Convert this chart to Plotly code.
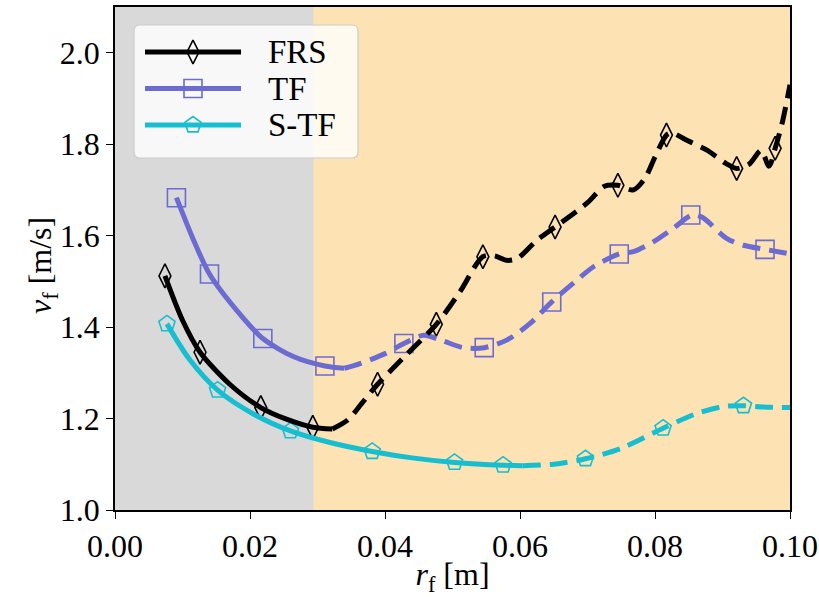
import plotly.graph_objects as go

# ---------------- data ----------------
# marker samples (r_f [m], v_f [m/s])
frs_mx = [0.0074, 0.0126, 0.0216, 0.0293, 0.0389, 0.0476, 0.0545, 0.0652, 0.0745, 0.0817, 0.0921, 0.0978]
frs_my = [1.512, 1.345, 1.224, 1.181, 1.275, 1.406, 1.554, 1.619, 1.710, 1.820, 1.747, 1.791]

tf_mx = [0.0091, 0.0140, 0.0219, 0.0311, 0.0428, 0.0547, 0.0647, 0.0747, 0.0853, 0.0963]
tf_my = [1.683, 1.516, 1.375, 1.315, 1.364, 1.355, 1.455, 1.560, 1.645, 1.570]

stf_mx = [0.0077, 0.0152, 0.0260, 0.0381, 0.0503, 0.0575, 0.0697, 0.0812, 0.0931]
stf_my = [1.407, 1.262, 1.173, 1.128, 1.104, 1.098, 1.112, 1.179, 1.228]

# curve knots: solid (inside the grey zone) and dashed parts
frs_solid_x = [0.0074, 0.0100, 0.0126, 0.0170, 0.0216, 0.0255, 0.0293, 0.0322]
frs_solid_y = [1.512, 1.415, 1.345, 1.275, 1.224, 1.198, 1.181, 1.177]
frs_dash_x = [0.0322, 0.0345, 0.0365, 0.0389, 0.0432, 0.0476, 0.0510, 0.0545, 0.0562, 0.0580,
              0.0596, 0.0625, 0.0652, 0.0700, 0.0725, 0.0745, 0.0768, 0.0785, 0.0800, 0.0817,
              0.0825, 0.0845, 0.0877, 0.0905, 0.0921, 0.0940, 0.0957, 0.0969, 0.0978, 0.0989, 0.1000]
frs_dash_y = [1.177, 1.197, 1.232, 1.275, 1.340, 1.406, 1.475, 1.554, 1.556, 1.546,
              1.550, 1.590, 1.619, 1.672, 1.708, 1.710, 1.700, 1.725, 1.772, 1.820,
              1.825, 1.810, 1.787, 1.758, 1.747, 1.757, 1.786, 1.752, 1.791, 1.850, 1.930]

tf_solid_x = [0.0091, 0.0115, 0.0140, 0.0180, 0.0219, 0.0265, 0.0311, 0.0340]
tf_solid_y = [1.683, 1.595, 1.516, 1.437, 1.375, 1.335, 1.315, 1.310]
tf_dash_x = [0.0340, 0.0363, 0.0400, 0.0428, 0.0457, 0.0482, 0.0516, 0.0547, 0.0581, 0.0615,
             0.0647, 0.0679, 0.0709, 0.0747, 0.0768, 0.0798, 0.0827, 0.0855, 0.0870, 0.0906,
             0.0931, 0.0963, 0.1000]
tf_dash_y = [1.310, 1.320, 1.342, 1.364, 1.382, 1.372, 1.355, 1.355, 1.372, 1.408,
             1.455, 1.496, 1.532, 1.560, 1.565, 1.587, 1.616, 1.645, 1.640, 1.594,
             1.579, 1.570, 1.560]

stf_solid_x = [0.0077, 0.0110, 0.0152, 0.0205, 0.0260, 0.0320, 0.0381, 0.0440, 0.0503, 0.0575, 0.0604]
stf_solid_y = [1.407, 1.330, 1.262, 1.210, 1.173, 1.147, 1.128, 1.114, 1.104, 1.098, 1.097]
stf_dash_x = [0.0604, 0.0650, 0.0697, 0.0750, 0.0812, 0.0860, 0.0900, 0.0931, 0.0960, 0.1000]
stf_dash_y = [1.097, 1.100, 1.112, 1.135, 1.179, 1.210, 1.226, 1.228, 1.225, 1.224]

grey_zone_end = 0.0294
series_names = ["FRS", "TF", "S-TF"]
x_title = "<i>r</i><sub>f</sub> [m]"
y_title = "<i>v</i><sub>f</sub> [m/s]"

# ---------------- styles ----------------
BLACK = "#000000"
PURPLE = "#6B6BD2"
CYAN = "#17BECF"
GREY_BG = "#D9D9D9"
ORANGE_BG = "#FDE3B3"
FONT = "Liberation Serif, Times New Roman, serif"
LW = 5
DASH = "18px,9px"

W, H = 819, 597
ML, MR, MT, MB = 115, 29, 7, 87

series = [
    dict(name=series_names[0], color=BLACK, symbol="diamond-tall-open", size=17,
         mx=frs_mx, my=frs_my, sx=frs_solid_x, sy=frs_solid_y, dx=frs_dash_x, dy=frs_dash_y),
    dict(name=series_names[1], color=PURPLE, symbol="square-open", size=18,
         mx=tf_mx, my=tf_my, sx=tf_solid_x, sy=tf_solid_y, dx=tf_dash_x, dy=tf_dash_y),
    dict(name=series_names[2], color=CYAN, symbol="pentagon-open", size=17,
         mx=stf_mx, my=stf_my, sx=stf_solid_x, sy=stf_solid_y, dx=stf_dash_x, dy=stf_dash_y),
]

fig = go.Figure()

# markers first so the curves run over them
for s in series:
    fig.add_trace(go.Scatter(
        x=s["mx"], y=s["my"], mode="markers", showlegend=False,
        marker=dict(symbol=s["symbol"], size=s["size"], color=s["color"],
                    line=dict(width=1.6, color=s["color"]))))

for s in reversed(series):
    fig.add_trace(go.Scatter(
        x=s["sx"], y=s["sy"], mode="lines", showlegend=False,
        line=dict(color=s["color"], width=LW, shape="spline", smoothing=0.8)))
    fig.add_trace(go.Scatter(
        x=s["dx"], y=s["dy"], mode="lines", showlegend=False,
        line=dict(color=s["color"], width=LW, dash=DASH, shape="spline", smoothing=0.8)))

# ---------------- legend drawn on a pixel-space overlay axis ----------------
px_left, px_right = ML, W - MR
px_top, px_bottom = MT, H - MB
box_x0, box_x1, box_y0, box_y1 = 134, 358, 25, 158
line_x0, line_x1 = 145, 241
text_x = 266
row_y0, row_dy = 52, 36.5

for i, s in enumerate(series):
    ry = row_y0 + i * row_dy
    fig.add_trace(go.Scatter(
        x=[line_x0, line_x1], y=[ry, ry], xaxis="x2", yaxis="y2", mode="lines",
        showlegend=False, hoverinfo="skip",
        line=dict(color=s["color"], width=LW)))
    fig.add_trace(go.Scatter(
        x=[(line_x0 + line_x1) / 2], y=[ry], xaxis="x2", yaxis="y2", mode="markers",
        showlegend=False, hoverinfo="skip",
        marker=dict(symbol=s["symbol"], size=s["size"], color=s["color"],
                    line=dict(width=1.6, color=s["color"]))))
    fig.add_annotation(x=text_x, y=ry, xref="x2", yref="y2", text=s["name"],
                       showarrow=False, xanchor="left", yanchor="middle",
                       font=dict(family=FONT, size=33, color="black"))

r = 6
box_path = (f"M{box_x0 + r},{box_y0} L{box_x1 - r},{box_y0} Q{box_x1},{box_y0} {box_x1},{box_y0 + r} "
            f"L{box_x1},{box_y1 - r} Q{box_x1},{box_y1} {box_x1 - r},{box_y1} "
            f"L{box_x0 + r},{box_y1} Q{box_x0},{box_y1} {box_x0},{box_y1 - r} "
            f"L{box_x0},{box_y0 + r} Q{box_x0},{box_y0} {box_x0 + r},{box_y0} Z")

# y-axis title placed as a rotated annotation, a little closer to the tick labels
plot_w = W - ML - MR
fig.add_annotation(x=(42 - ML) / plot_w, y=0.485, xref="paper", yref="paper",
                   text=y_title, textangle=-90, showarrow=False,
                   xanchor="center", yanchor="middle", font=dict(family=FONT, size=32))

fig.update_layout(
    width=W, height=H,
    margin=dict(l=ML, r=MR, t=MT, b=MB, pad=0, autoexpand=False),
    paper_bgcolor="white",
    plot_bgcolor=ORANGE_BG,
    font=dict(family=FONT, size=32, color="black"),
    showlegend=False,
    shapes=[
        dict(type="rect", xref="x", yref="paper", x0=0, x1=grey_zone_end, y0=0, y1=1,
             fillcolor=GREY_BG, line=dict(width=0), layer="below"),
        dict(type="path", xref="x2", yref="y2", path=box_path,
             fillcolor="rgba(255,255,255,0.8)", line=dict(color="#CCCCCC", width=1.2),
             layer="below"),
    ],
    xaxis=dict(range=[0, 0.10], dtick=0.02, tickformat=".2f", showgrid=False, zeroline=False,
               showline=True, linecolor="black", linewidth=1.5, mirror=True, automargin=False,
               ticks="outside", ticklen=7, tickwidth=1.3, tickcolor="black",
               tickfont=dict(size=32),
               title=dict(text=x_title, font=dict(size=32), standoff=8)),
    yaxis=dict(range=[1.0, 2.1], tick0=1.0, dtick=0.2, tickformat=".1f", showgrid=False,
               zeroline=False, showline=True, linecolor="black", linewidth=1.5, mirror=True,
               automargin=False,
               ticks="outside", ticklen=7, tickwidth=1.3, tickcolor="black",
               tickfont=dict(size=32)),
    xaxis2=dict(overlaying="x", range=[px_left, px_right], visible=False, fixedrange=True),
    yaxis2=dict(overlaying="y", range=[px_bottom, px_top], visible=False, fixedrange=True),
)

fig.write_html("out.html")
